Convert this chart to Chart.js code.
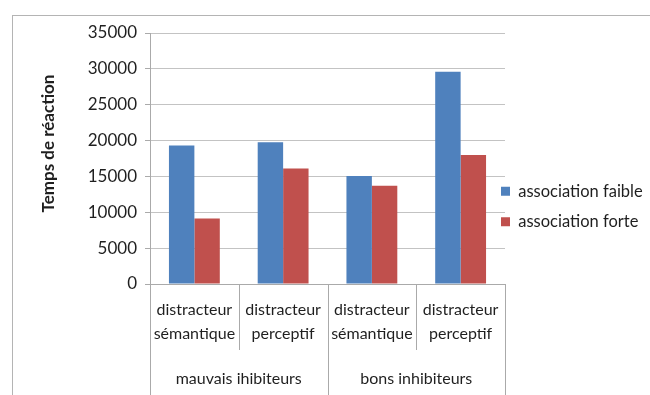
<!DOCTYPE html>
<html>
<head>
<meta charset="utf-8">
<script src="https://cdn.jsdelivr.net/npm/chart.js@4.4.1/dist/chart.umd.min.js"></script>
<style>
  html, body { margin: 0; padding: 0; background: #fff; }
  #c { display: block; }
</style>
</head>
<body>
<canvas id="c" width="650" height="395"></canvas>
<script>
// Two-level category axis: distractor type inside each inhibitor group
const categories = [
  ["distracteur", "sémantique"],
  ["distracteur", "perceptif"],
  ["distracteur", "sémantique"],
  ["distracteur", "perceptif"],
];
const groups = ["mauvais ihibiteurs", "bons inhibiteurs"];

const seriesNames = ["association faible", "association forte"];
const faible = [19300, 19750, 15050, 29600];
const forte = [9150, 16100, 13700, 18000];

const yTitle = "Temps de réaction";
const yMax = 35000;
const yStep = 5000;

const FONT = "Lato";
const TEXT = "#1f1f1f";
const GRID = "#c3c3c3";
const AXIS = "#aaaaaa";

// draws the frame, the category separators, the group labels and the y title
const groupAxis = {
  id: "groupAxis",
  beforeDraw(chart) {
    const ctx = chart.ctx;
    ctx.save();
    ctx.strokeStyle = "#b4b4b4";
    ctx.lineWidth = 1;
    ctx.strokeRect(12.5, 15.5, chart.width, chart.height);
    ctx.restore();
  },
  afterDraw(chart) {
    const x = chart.scales.x;
    const y = chart.scales.y;
    const ctx = chart.ctx;
    const n = chart.data.labels.length;
    const per = n / groups.length;
    ctx.save();
    ctx.strokeStyle = AXIS;
    ctx.lineWidth = 1;
    for (let i = 0; i <= n; i++) {
      const px = Math.round(x.getPixelForValue(i - 0.5)) + 0.5;
      const end = i % per === 0 ? chart.height : x.top + 66;
      ctx.beginPath();
      ctx.moveTo(px, x.top);
      ctx.lineTo(px, end);
      ctx.stroke();
    }
    ctx.fillStyle = TEXT;
    ctx.font = "16px " + FONT;
    ctx.textAlign = "center";
    ctx.textBaseline = "middle";
    groups.forEach((g, gi) => {
      const a = x.getPixelForValue(gi * per - 0.5);
      const b = x.getPixelForValue((gi + 1) * per - 0.5);
      ctx.fillText(g, (a + b) / 2, x.top + 95);
    });

    // axis title, a little above the middle of the value axis
    ctx.translate(y.left + 29, (y.top + y.bottom) / 2 - 15);
    ctx.rotate(-Math.PI / 2);
    ctx.font = "bold 17px " + FONT;
    ctx.fillText(yTitle, 0, 0);
    ctx.restore();
  },
  afterLayout(chart) {
    // legend sits slightly over the plot's right edge
    const lg = chart.legend;
    lg.left = chart.chartArea.right - 18;
    lg.top = 18;
    lg.bottom = chart.height;
  },
};

new Chart(document.getElementById("c"), {
  type: "bar",
  data: {
    labels: categories,
    datasets: [
      { label: seriesNames[0], data: faible, backgroundColor: "#4f81bd" },
      { label: seriesNames[1], data: forte, backgroundColor: "#c0504d" },
    ],
  },
  options: {
    responsive: false,
    animation: false,
    devicePixelRatio: 1,
    layout: { padding: { left: 20, top: 33, right: 0, bottom: 0 } },
    datasets: { bar: { categoryPercentage: 0.573, barPercentage: 1 } },
    scales: {
      x: {
        grid: { display: false, offset: true },
        border: { color: AXIS },
        ticks: {
          color: TEXT,
          font: { family: FONT, size: 16, lineHeight: 1.5 },
          padding: 6,
          maxRotation: 0,
        },
        afterFit(scale) { scale.height = 111; },
      },
      y: {
        min: 0,
        max: yMax,
        ticks: {
          stepSize: yStep,
          color: TEXT,
          font: { family: FONT, size: 17 },
          padding: 8,
          callback: (v) => String(v),
        },
        grid: { color: GRID, tickLength: 5, tickColor: AXIS },
        border: { color: AXIS },
        afterFit(scale) { scale.width = 130; },
      },
    },
    plugins: {
      legend: {
        position: "right",
        maxWidth: 145,
        labels: { boxWidth: 9, boxHeight: 9, padding: 14, color: TEXT, font: { family: FONT, size: 16.5 } },
      },
      tooltip: { enabled: false },
    },
  },
  plugins: [groupAxis],
});
</script>
</body>
</html>
